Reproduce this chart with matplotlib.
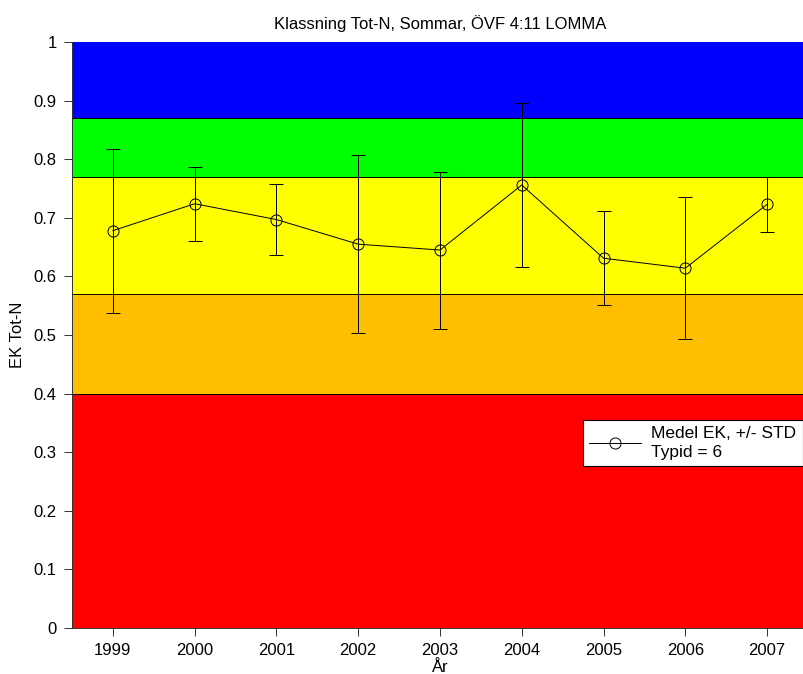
import matplotlib
matplotlib.use("Agg")
import matplotlib.pyplot as plt
from matplotlib.lines import Line2D

plt.rcParams['font.family'] = ['Liberation Sans', 'DejaVu Sans']

years = [1999, 2000, 2001, 2002, 2003, 2004, 2005, 2006, 2007]
mean_ek = [0.678, 0.724, 0.697, 0.655, 0.645, 0.756, 0.631, 0.614, 0.723]
std_ek = [0.140, 0.063, 0.061, 0.152, 0.134, 0.140, 0.080, 0.121, 0.047]

# class boundaries (EK) and colours, from bottom to top
class_limits = [0.0, 0.4, 0.57, 0.77, 0.87, 1.0]
class_colors = ['#ff0000', '#ffbf00', '#ffff00', '#00ff00', '#0000ff']

fig = plt.figure(figsize=(8.04, 6.74), dpi=100)
ax = fig.add_axes([72 / 804, 1 - 628 / 674, (808 - 72) / 804, (628 - 42) / 674])

xmin, xmax = 1998.5, 2007.5
for lo, hi, c in zip(class_limits[:-1], class_limits[1:], class_colors):
    ax.fill_between([xmin, xmax], lo, hi, facecolor=c, edgecolor='none', zorder=1)
for b in class_limits[1:-1]:
    ax.axhline(b, color='black', lw=0.7, zorder=2)

ax.errorbar(years, mean_ek, yerr=std_ek, color='black', lw=0.7, elinewidth=0.7,
            capsize=4.7, capthick=0.7, marker='o', markersize=8,
            markerfacecolor='none', markeredgecolor='black', markeredgewidth=0.7,
            zorder=3)

ax.set_xlim(xmin, xmax)
ax.set_ylim(0, 1)
ax.set_xticks(years)
ax.set_xticklabels([str(y) for y in years])
ax.set_yticks([0, 0.1, 0.2, 0.3, 0.4, 0.5, 0.6, 0.7, 0.8, 0.9, 1])
ax.set_yticklabels(['0', '0.1', '0.2', '0.3', '0.4', '0.5', '0.6', '0.7', '0.8', '0.9', '1'])
ax.tick_params(direction='out', length=6, width=0.7, labelsize=12, colors='#333333',
               labelcolor='black', pad=5)
for s in ['top', 'right']:
    ax.spines[s].set_visible(False)
for s in ['left', 'bottom']:
    ax.spines[s].set_color('#333333')
    ax.spines[s].set_linewidth(0.7)

ax.set_title('Klassning Tot-N, Sommar, ÖVF 4:11 LOMMA', fontsize=12, pad=9)
ax.set_xlabel('År', fontsize=12, labelpad=1)
ax.set_ylabel('EK Tot-N', fontsize=12, labelpad=6)

handle = Line2D([], [], color='black', lw=0.7, marker='o', markersize=8,
                markerfacecolor='none', markeredgecolor='black', markeredgewidth=0.7)
leg = ax.legend([handle], ['Medel EK, +/- STD\nTypid = 6'], loc='upper left',
                bbox_to_anchor=(0.694, 0.355), borderaxespad=0,
                fontsize=12.5, frameon=True, fancybox=False, framealpha=1,
                edgecolor='black', handlelength=3, borderpad=0.35,
                handletextpad=0.6, labelspacing=0.1)
leg.get_texts()[0].set_linespacing(1.35)
leg.get_frame().set_linewidth(0.8)

fig.savefig('out.png', dpi=100)
